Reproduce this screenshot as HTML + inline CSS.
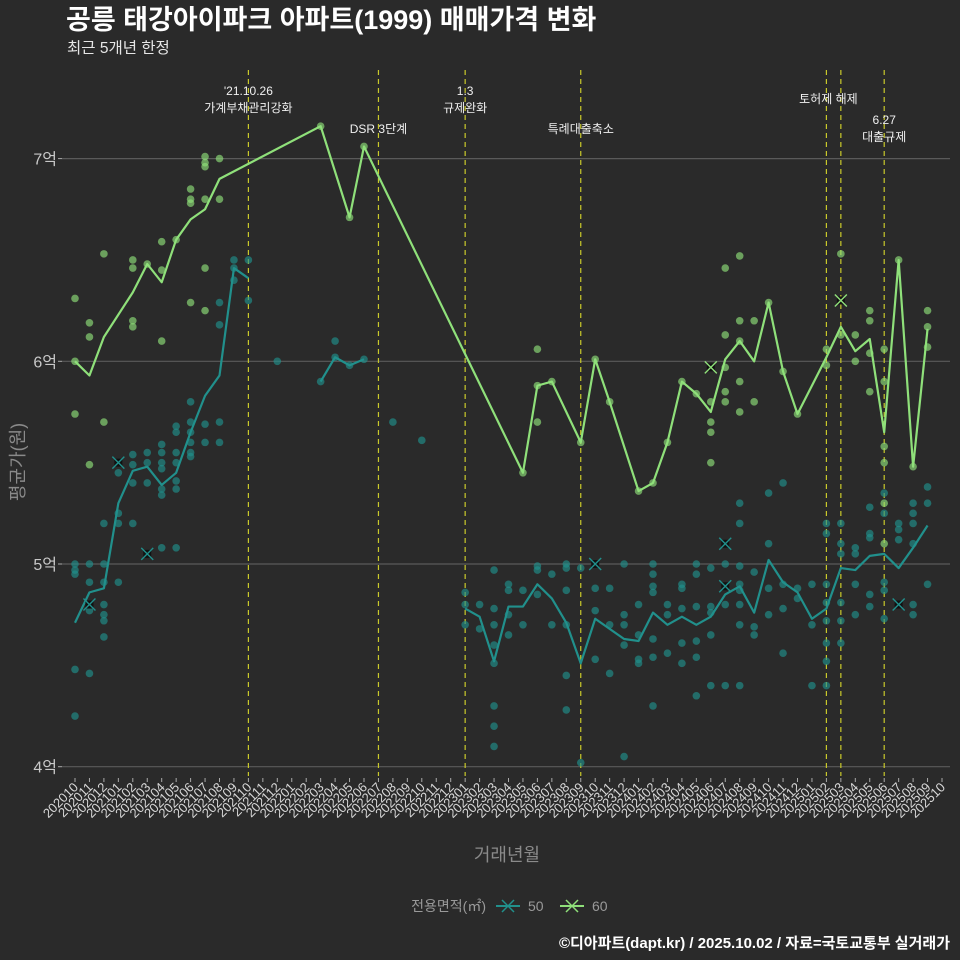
<!DOCTYPE html>
<html><head><meta charset="utf-8">
<style>
html,body{margin:0;padding:0;background:#2a2a2a;}
svg{display:block;font-family:"Liberation Sans","Noto Sans CJK KR",sans-serif;}
</style></head>
<body>
<svg id="chart" width="960" height="960" viewBox="0 0 960 960" xmlns="http://www.w3.org/2000/svg">
<rect x="0" y="0" width="960" height="960" fill="#2a2a2a"/>
<text x="66" y="29" font-size="27" font-weight="bold" fill="#ffffff">공릉 태강아이파크 아파트(1999) 매매가격 변화</text>
<text x="67" y="53" font-size="15.5" fill="#e6e6e6">최근 5개년 한정</text>
<g id="grid"></g>
<g id="vlines"></g>
<g id="points"></g>
<g id="lines"></g>
<g id="marks"></g>
<g id="axes"></g>
<text x="507" y="861" font-size="18" fill="#8a8a8a" text-anchor="middle">거래년월</text>
<text transform="translate(24,462) rotate(-90)" font-size="18" fill="#8a8a8a" text-anchor="middle">평균가(원)</text>
<g>
<text x="486" y="911" font-size="14" fill="#9a9a9a" text-anchor="end">전용면적(㎡)</text>
<g>
<line x1="496" y1="906" x2="520" y2="906" stroke="#21908C" stroke-width="2"/>
<path d="M502 900 L514 912 M514 900 L502 912" stroke="#21908C" stroke-width="1.5"/>
<text x="528" y="911" font-size="14" fill="#9a9a9a">50</text></g>
<g>
<line x1="560" y1="906" x2="584" y2="906" stroke="#8fe07a" stroke-width="2"/>
<path d="M566 900 L578 912 M578 900 L566 912" stroke="#8fe07a" stroke-width="1.5"/>
<text x="592" y="911" font-size="14" fill="#9a9a9a">60</text></g>
</g>
<text x="950" y="948" font-size="15" font-weight="bold" fill="#ffffff" text-anchor="end">©디아파트(dapt.kr) / 2025.10.02 / 자료=국토교통부 실거래가</text>
</svg>
<script>
const months = ["202010","202011","202012","202101","202102","202103","202104","202105","202106","202107","202108","202109","202110","202111","202112","202201","202202","202203","202204","202205","202206","202207","202208","202209","202210","202211","202212","202301","202302","202303","202304","202305","202306","202307","202308","202309","202310","202311","202312","202401","202402","202403","202404","202405","202406","202407","202408","202409","202410","202411","202412","202501","202502","202503","202504","202505","202506","202507","202508","202509","202510"];
const yTicks = [4,5,6,7];
const yTickLabels = ["4억","5억","6억","7억"];
const line60 = [6.00,5.93,6.12,null,6.34,6.48,6.39,6.60,6.70,6.75,6.90,null,null,null,null,null,null,7.16,null,6.71,7.06,null,null,null,null,null,null,null,null,null,null,5.45,5.88,5.90,null,5.60,6.01,5.80,null,5.36,5.40,5.60,5.90,5.84,5.75,6.01,6.10,6.00,6.29,5.95,5.74,null,6.02,6.17,6.05,6.11,5.65,6.50,5.48,6.16,null];
const line50 = [4.71,4.86,4.88,5.30,5.46,5.48,5.39,5.45,5.65,5.83,5.93,6.46,6.41,null,null,null,null,5.90,6.02,5.98,6.01,null,null,null,null,null,null,4.78,4.74,4.52,4.79,4.79,4.90,4.83,4.71,4.51,4.73,4.68,4.63,4.62,4.76,4.70,4.74,4.70,4.74,4.85,4.89,4.76,5.02,4.91,4.86,4.73,4.78,4.98,4.97,5.04,5.05,4.98,5.08,5.19,null];
const pts60Month = [0,0,0,1,1,1,2,2,4,4,4,4,5,6,6,6,7,8,8,8,8,9,9,9,9,9,9,10,10,17,19,20,31,32,32,32,33,35,36,37,39,40,41,42,43,44,44,44,44,45,45,45,45,45,46,46,46,46,46,47,47,48,49,50,52,52,53,53,54,54,55,55,55,55,56,56,56,56,56,56,57,58,59,59,59];
const pts60Value = [6.31,6.00,5.74,6.19,6.12,5.49,6.53,5.70,6.50,6.46,6.20,6.17,6.48,6.59,6.45,6.10,6.60,6.85,6.80,6.78,6.29,7.01,6.98,6.96,6.80,6.46,6.25,7.00,6.80,7.16,6.71,7.06,5.45,6.06,5.88,5.70,5.90,5.60,6.01,5.80,5.36,5.40,5.60,5.90,5.84,5.80,5.70,5.65,5.50,6.46,6.13,5.97,5.85,5.80,6.52,6.20,6.10,5.90,5.75,6.20,5.80,6.29,5.95,5.74,6.06,5.98,6.53,6.13,6.13,6.00,6.25,6.20,6.04,5.85,6.06,5.90,5.58,5.50,5.30,5.10,6.50,5.48,6.25,6.17,6.07];
const pts50Month = [0,0,0,0,0,1,1,1,1,2,2,2,2,2,2,2,3,3,3,3,3,4,4,4,4,5,5,5,6,6,6,6,6,6,6,7,7,7,7,7,7,7,8,8,8,8,8,8,9,9,10,10,10,10,11,11,11,12,12,14,17,18,18,19,20,22,24,27,27,27,28,28,29,29,29,29,29,29,29,29,30,30,30,30,31,31,32,32,32,33,33,34,34,34,34,34,34,35,35,36,36,36,37,37,37,38,38,38,38,38,39,39,39,39,40,40,40,40,40,40,40,41,41,41,42,42,42,42,42,43,43,43,43,43,43,44,44,44,44,44,45,45,45,46,46,46,46,46,46,46,46,47,47,47,48,48,48,48,49,49,49,49,50,50,51,51,51,52,52,52,52,52,52,52,52,53,53,53,53,53,53,54,54,54,54,55,55,55,55,55,56,56,56,56,56,57,57,57,58,58,58,58,58,58,59,59,59];
const pts50Value = [5.00,4.97,4.95,4.48,4.25,5.00,4.91,4.77,4.46,5.20,5.00,4.91,4.80,4.75,4.72,4.64,5.50,5.45,5.25,5.20,4.91,5.54,5.49,5.40,5.20,5.55,5.50,5.40,5.59,5.55,5.50,5.47,5.37,5.34,5.08,5.68,5.65,5.55,5.50,5.41,5.37,5.08,5.70,5.65,5.60,5.55,5.53,5.80,5.69,5.60,6.29,6.18,5.70,5.60,6.50,6.46,6.40,6.50,6.30,6.00,5.90,6.10,6.02,5.98,6.01,5.70,5.61,4.86,4.80,4.70,4.80,4.68,4.97,4.78,4.70,4.60,4.51,4.30,4.20,4.10,4.90,4.87,4.75,4.65,4.87,4.70,4.99,4.97,4.85,4.95,4.70,5.00,4.98,4.87,4.70,4.45,4.28,4.98,4.02,4.88,4.77,4.53,4.88,4.70,4.46,5.00,4.75,4.70,4.60,4.05,4.80,4.65,4.53,4.51,5.00,4.95,4.89,4.86,4.63,4.54,4.30,4.80,4.75,4.56,4.90,4.88,4.78,4.61,4.51,5.00,4.95,4.79,4.62,4.54,4.35,4.98,4.79,4.76,4.65,4.40,5.00,4.80,4.40,5.30,5.20,4.99,4.90,4.87,4.80,4.70,4.40,4.96,4.69,4.65,5.35,5.10,4.88,4.75,5.40,4.90,4.78,4.56,4.88,4.83,4.90,4.70,4.40,5.20,5.15,4.90,4.81,4.72,4.61,4.52,4.40,5.20,5.10,5.05,4.81,4.72,4.61,5.08,5.05,4.90,4.75,5.28,5.15,5.13,4.85,4.79,5.35,5.25,4.91,4.87,4.73,5.20,5.17,5.12,5.30,5.25,5.20,5.10,4.80,4.75,5.38,5.30,4.90];
const x50Month = [1,3,5,36,45,45,57];
const x50Value = [4.80,5.50,5.05,5.00,5.10,4.89,4.80];
const x60Month = [44,53];
const x60Value = [5.97,6.30];
const eventMonth = [12,21,27,35,52,53,56];
const eventLabel1 = ["'21.10.26","","1.3","","","",""];
const eventLabel2 = ["가계부채관리강화","DSR 3단계","규제완화","특례대출축소","토허제 해제","","6.27"];
const eventLabel3 = ["","","","","","","대출규제"];

const NS="http://www.w3.org/2000/svg";
const X0=75, XSTEP=(942-75)/60, YREF=564, YSCALE=202.7;
function xs(i){return X0+i*XSTEP;}
function ys(v){return YREF-(v-5)*YSCALE;}
function mk(tag,attrs,parent){const e=document.createElementNS(NS,tag);for(const k in attrs)e.setAttribute(k,attrs[k]);parent.appendChild(e);return e;}
const C50="#21908C", C60="#8fe07a";

const grid=document.getElementById('grid'), axes=document.getElementById('axes');
yTicks.forEach((t,i)=>{
  const l=mk('line',{x1:62,x2:950,y1:ys(t),y2:ys(t),stroke:'#5a5a5a','stroke-width':1.2},grid);
  
  
  const tk=mk('line',{x1:58,x2:62,y1:ys(t),y2:ys(t),stroke:'#aaa','stroke-width':1},axes);
  
  
  const tx=mk('text',{x:57,y:ys(t)+6,'font-size':16,fill:'#c8c8c8','text-anchor':'end'},axes);
  tx.textContent=yTickLabels[i];
  
  
});
months.forEach((m,i)=>{
  const x=xs(i);
  const tk=mk('line',{x1:x,x2:x,y1:778,y2:782,stroke:'#aaa','stroke-width':1},axes);
  
  
  const tx=mk('text',{transform:`translate(${x+4},788) rotate(-45)`,'font-size':13,fill:'#d8d8d8','text-anchor':'end'},axes);
  tx.textContent=m;
  
  
});

const vl=document.getElementById('vlines');
eventMonth.forEach((em,i)=>{
  const x=xs(em);
  const l=mk('line',{x1:x,x2:x,y1:70,y2:776,stroke:'#c9c92a','stroke-width':1.2,'stroke-dasharray':'5,4'},vl);
  
  
});
function lbl(x,y,s){if(!s)return;const t=mk('text',{x:x,y:y,'font-size':12,fill:'#f0f0f0','text-anchor':'middle'},vl);t.textContent=s;
  
  }
lbl(xs(eventMonth[0]),95,eventLabel1[0]); lbl(xs(eventMonth[0]),112,eventLabel2[0]);
lbl(xs(eventMonth[1]),133,eventLabel2[1]);
lbl(xs(eventMonth[2]),95,eventLabel1[2]); lbl(xs(eventMonth[2]),112,eventLabel2[2]);
lbl(xs(eventMonth[3]),133,eventLabel2[3]);
lbl(xs(eventMonth[4])+2,103,eventLabel2[4]);
lbl(xs(eventMonth[6]),124,eventLabel2[6]); lbl(xs(eventMonth[6]),141,eventLabel3[6]);

const pg=document.getElementById('points');
function drawPts(ms,vs,col,name){ms.forEach((m,i)=>{
  const c=mk('circle',{cx:xs(m),cy:ys(vs[i]),r:3.8,fill:col,'fill-opacity':0.65},pg);
  
  
});}
drawPts(pts50Month,pts50Value,C50,'trade-point-50');
drawPts(pts60Month,pts60Value,C60,'trade-point-60');

const lg=document.getElementById('lines');
function drawLine(arr,col,connectGaps,name){
  let segs=[],cur=[];
  arr.forEach((v,i)=>{ if(v==null){ if(!connectGaps){ if(cur.length)segs.push(cur); cur=[];} } else cur.push([xs(i),ys(v)]); });
  if(cur.length)segs.push(cur);
  segs.forEach(s=>{ if(s.length<2)return;
    const p=mk('polyline',{points:s.map(q=>q.join(',')).join(' '),fill:'none',stroke:col,'stroke-width':2.2,'stroke-linejoin':'round'},lg);
    
    
  });
}
drawLine(line50,C50,false,'mean-line-50');
drawLine(line60,C60,true,'mean-line-60');

const mg=document.getElementById('marks');
function drawX(ms,vs,col,name){ms.forEach((m,i)=>{
  const x=xs(m),y=ys(vs[i]);
  const g=mk('g',{},mg);
  
  
  mk('rect',{x:x-4,y:y-4,width:8,height:8,fill:'#111'},g);
  mk('path',{d:`M${x-6} ${y-6} L${x+6} ${y+6} M${x+6} ${y-6} L${x-6} ${y+6}`,stroke:col,'stroke-width':1.4},g);
});}
drawX(x50Month,x50Value,C50,'highlight-x-50');
drawX(x60Month,x60Value,C60,'highlight-x-60');
</script>
</body></html>
